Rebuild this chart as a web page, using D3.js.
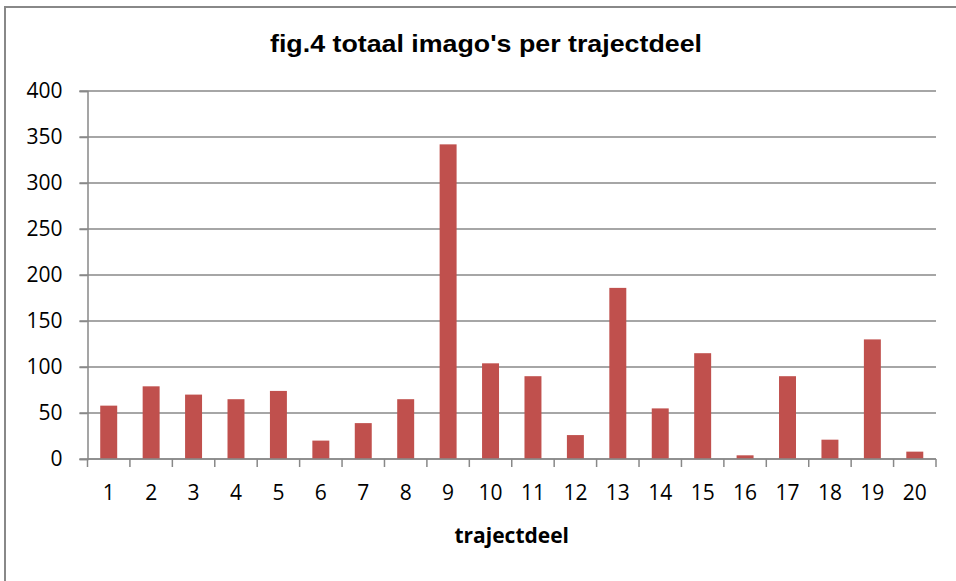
<!DOCTYPE html>
<html>
<head>
<meta charset="utf-8">
<script src="https://cdn.jsdelivr.net/npm/d3@7"></script>
<style>
  body { margin: 0; background: #fff; }
</style>
</head>
<body>
<svg width="956" height="581"></svg>
<script>
const categories = ['1','2','3','4','5','6','7','8','9','10','11','12','13','14','15','16','17','18','19','20'];
const values = [58, 79, 70, 65, 74, 20, 39, 65, 342, 104, 90, 26, 186, 55, 115, 4, 90, 21, 130, 8];
const yTicks = [0, 50, 100, 150, 200, 250, 300, 350, 400];

const svg = d3.select('svg');
const width = +svg.attr('width');
const height = +svg.attr('height');

const plot = {left: 87.5, right: 936, top: 91, bottom: 459};
const gridColor = '#888888';
const barColor = '#C0504D';
const labelFont = "'Open Sans', sans-serif";

// chart border (only left and top edges are visible in the picture)
svg.append('rect')
  .attr('x', 5)
  .attr('y', 7)
  .attr('width', width + 10)
  .attr('height', height + 10)
  .attr('fill', 'none')
  .attr('stroke', gridColor)
  .attr('stroke-width', 2);

const x = d3.scaleBand()
  .domain(categories)
  .range([plot.left, plot.right])
  .paddingInner(0.6)
  .paddingOuter(0.3);

const xEdges = d3.scaleBand()
  .domain(categories)
  .range([plot.left, plot.right]);

const y = d3.scaleLinear()
  .domain([0, 400])
  .range([plot.bottom, plot.top]);

// gridlines
svg.append('g')
  .selectAll('line')
  .data(yTicks)
  .join('line')
  .attr('x1', plot.left - 8)
  .attr('x2', plot.right)
  .attr('y1', d => y(d))
  .attr('y2', d => y(d))
  .attr('stroke', gridColor)
  .attr('stroke-width', 1.5);

// y axis
const yAxis = svg.append('g')
  .attr('transform', `translate(${plot.left},0)`)
  .call(d3.axisLeft(y).tickValues(yTicks).tickSize(8).tickPadding(17));
yAxis.select('.domain').attr('stroke', gridColor).attr('stroke-width', 1.5);
yAxis.selectAll('.tick line').attr('stroke', gridColor).attr('stroke-width', 1.5);
yAxis.selectAll('.tick text')
  .attr('font-family', labelFont)
  .attr('font-size', 21)
  .attr('fill', '#000');

// bars
svg.append('g')
  .selectAll('rect')
  .data(values)
  .join('rect')
  .attr('x', (d, i) => x(categories[i]))
  .attr('y', d => y(d))
  .attr('width', x.bandwidth())
  .attr('height', d => y(0) - y(d))
  .attr('fill', barColor);

// x axis: ticks between categories
const xg = svg.append('g');
xg.append('line')
  .attr('x1', plot.left)
  .attr('x2', plot.right)
  .attr('y1', plot.bottom)
  .attr('y2', plot.bottom)
  .attr('stroke', gridColor)
  .attr('stroke-width', 1.5);
const edges = categories.map(c => xEdges(c)).concat([plot.right]);
xg.selectAll('line.tk')
  .data(edges)
  .join('line')
  .attr('class', 'tk')
  .attr('x1', d => d)
  .attr('x2', d => d)
  .attr('y1', plot.bottom)
  .attr('y2', plot.bottom + 8)
  .attr('stroke', gridColor)
  .attr('stroke-width', 1.5);
xg.selectAll('text')
  .data(categories)
  .join('text')
  .attr('x', d => xEdges(d) + xEdges.bandwidth() / 2)
  .attr('y', 500)
  .attr('text-anchor', 'middle')
  .attr('font-family', labelFont)
  .attr('font-size', 21)
  .attr('fill', '#000')
  .text(d => d);

// axis title
svg.append('text')
  .attr('x', (plot.left + plot.right) / 2)
  .attr('y', 543)
  .attr('text-anchor', 'middle')
  .attr('font-family', labelFont)
  .attr('font-weight', 'bold')
  .attr('font-size', 21)
  .text('trajectdeel');

// chart title
svg.append('text')
  .attr('x', 486)
  .attr('y', 52)
  .attr('text-anchor', 'middle')
  .attr('font-family', "'Liberation Sans', Arial, sans-serif")
  .attr('font-weight', 'bold')
  .attr('font-size', 24)
  .attr('textLength', 432)
  .attr('lengthAdjust', 'spacingAndGlyphs')
  .text("fig.4 totaal imago's per trajectdeel");
</script>
</body>
</html>
